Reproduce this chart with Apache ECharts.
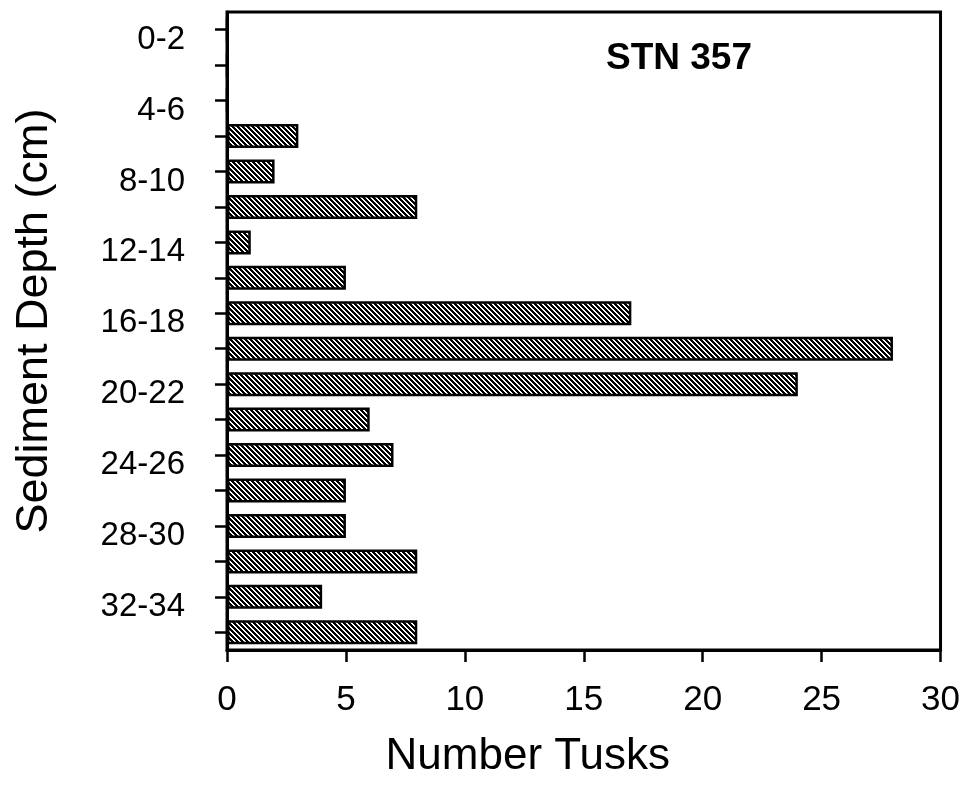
<!DOCTYPE html>
<html>
<head>
<meta charset="utf-8">
<script src="https://cdn.jsdelivr.net/npm/echarts@6/dist/echarts.min.js"></script>
<style>html,body{margin:0;padding:0;background:#fff}#c{width:963px;height:786px}</style>
</head>
<body>
<div id="c"></div>
<script>
const depthCategories = ['0-2','2-4','4-6','6-8','8-10','10-12','12-14','14-16','16-18','18-20','20-22','22-24','24-26','26-28','28-30','30-32','32-34','34-36'];
const tuskCounts = [0,0,0,3,2,8,1,5,17,28,24,6,7,5,5,8,4,8];
const xTicks = [0,5,10,15,20,25,30];
const stationLabel = 'STN 357';
const xAxisTitle = 'Number Tusks';
const yAxisTitle = 'Sediment Depth (cm)';

// diagonal hatch pattern
const P = 5;
const pc = document.createElement('canvas');
pc.width = P; pc.height = P;
const pctx = pc.getContext('2d');
pctx.fillStyle = '#fff'; pctx.fillRect(0,0,P,P);
pctx.fillStyle = '#000';
for (let y = 0; y < P; y++) for (let x = 0; x < P; x++) {
  const d = ((x - y) % P + P) % P;
  if (d < 3) pctx.fillRect(x, y, 1, 1);
}

const font = 'Liberation Sans, Arial, sans-serif';
const chart = echarts.init(document.getElementById('c'), null, {renderer: 'canvas'});
chart.setOption({
  animation: false,
  backgroundColor: '#fff',
  title: {
    text: stationLabel, left: 601, top: 35,
    textStyle: {fontFamily: font, fontSize: 37, fontWeight: 'bold', color: '#000'}
  },
  grid: {left: 227, right: 21, top: 12, bottom: 136, show: true, borderColor: '#000', borderWidth: 3, containLabel: false},
  xAxis: {
    type: 'value', min: xTicks[0], max: xTicks[xTicks.length-1], interval: 5,
    name: xAxisTitle, nameLocation: 'middle', nameGap: 85,
    nameTextStyle: {fontFamily: font, fontSize: 44, color: '#000', padding: [0,112,0,0]},
    axisLine: {show: true, lineStyle: {color: '#000', width: 3}},
    axisTick: {show: true, inside: false, length: 12, lineStyle: {color: '#000', width: 2.5}},
    axisLabel: {fontFamily: font, fontSize: 35, color: '#000', margin: 33},
    splitLine: {show: false}
  },
  yAxis: {
    type: 'category', data: depthCategories, inverse: true,
    name: yAxisTitle, nameLocation: 'middle', nameGap: 170, nameRotate: 90,
    nameTextStyle: {fontFamily: font, fontSize: 45, color: '#000', padding: [0,0,0,20]},
    axisLine: {show: true, lineStyle: {color: '#000', width: 3}},
    axisTick: {show: true, alignWithLabel: true, interval: 0, length: 12, lineStyle: {color: '#000', width: 2.5}},
    axisLabel: {interval: 1, fontFamily: font, fontSize: 33, color: '#000', margin: 42, verticalAlign: 'top', lineHeight: 20},
    splitLine: {show: false}
  },
  series: [{
    type: 'bar', data: tuskCounts, barWidth: 24,
    itemStyle: {color: {image: pc, repeat: 'repeat'}, borderColor: '#000', borderWidth: 2.5}
  }]
});
</script>
</body>
</html>
